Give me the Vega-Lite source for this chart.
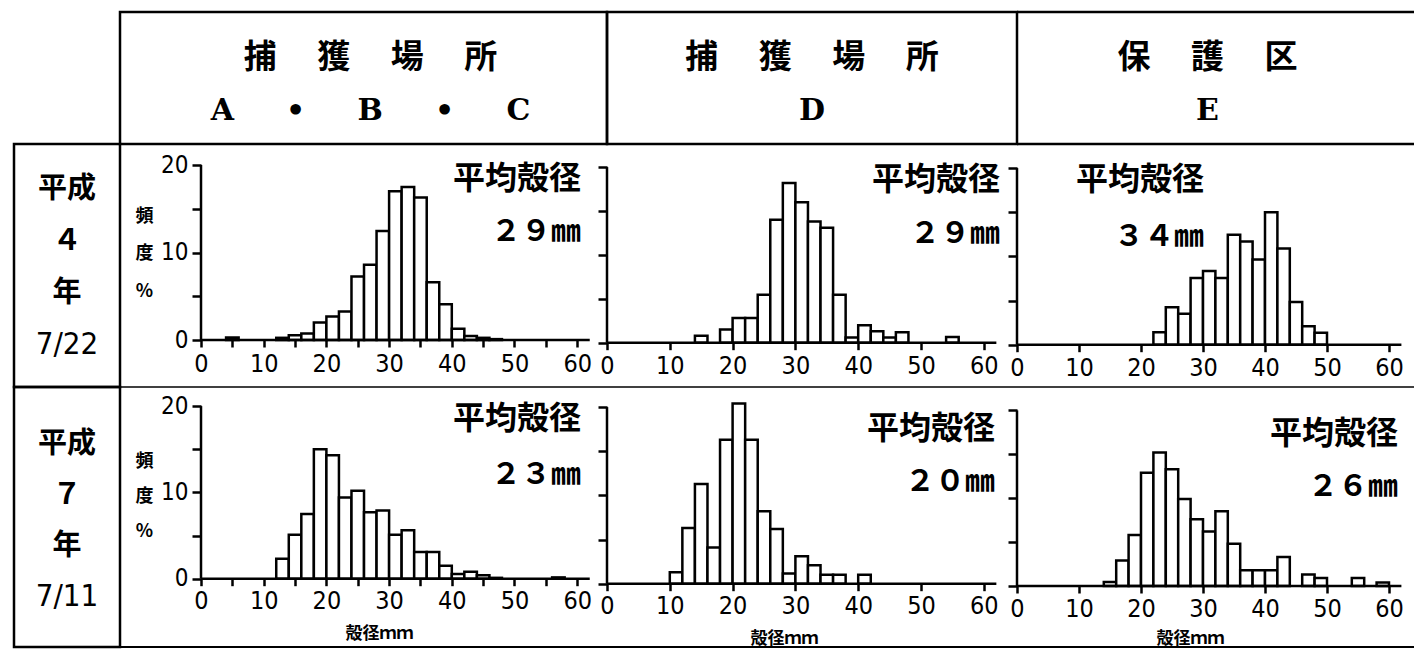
{
  "$schema": "https://vega.github.io/schema/vega-lite/v6.json",
  "background": "white",
  "padding": {"left": 12, "top": 10, "right": 0, "bottom": 0},
  "columns": 4,
  "spacing": 0,
  "bounds": "flush",
  "align": "each",
  "config": {
    "view": {"stroke": null},
    "axis": {"domainColor": "black", "tickColor": "black", "labelColor": "black", "titleColor": "black", "grid": false}
  },
  "datasets": {
    "p1": [
      {"lo": 4, "hi": 6, "pct": 0.3}, {"lo": 12, "hi": 14, "pct": 0.25}, {"lo": 14, "hi": 16, "pct": 0.55},
      {"lo": 16, "hi": 18, "pct": 0.75}, {"lo": 18, "hi": 20, "pct": 2.0}, {"lo": 20, "hi": 22, "pct": 2.7},
      {"lo": 22, "hi": 24, "pct": 3.25}, {"lo": 24, "hi": 26, "pct": 7.25}, {"lo": 26, "hi": 28, "pct": 8.6},
      {"lo": 28, "hi": 30, "pct": 12.45}, {"lo": 30, "hi": 32, "pct": 17.0}, {"lo": 32, "hi": 34, "pct": 17.5},
      {"lo": 34, "hi": 36, "pct": 16.3}, {"lo": 36, "hi": 38, "pct": 6.6}, {"lo": 38, "hi": 40, "pct": 4.1},
      {"lo": 40, "hi": 42, "pct": 1.3}, {"lo": 42, "hi": 44, "pct": 0.45}, {"lo": 44, "hi": 46, "pct": 0.25},
      {"lo": 46, "hi": 48, "pct": 0.1}
    ],
    "p2": [
      {"lo": 14, "hi": 16, "pct": 0.8}, {"lo": 18, "hi": 20, "pct": 1.5}, {"lo": 20, "hi": 22, "pct": 2.8},
      {"lo": 22, "hi": 24, "pct": 2.8}, {"lo": 24, "hi": 26, "pct": 5.45}, {"lo": 26, "hi": 28, "pct": 14.0},
      {"lo": 28, "hi": 30, "pct": 18.2}, {"lo": 30, "hi": 32, "pct": 16.0}, {"lo": 32, "hi": 34, "pct": 13.8},
      {"lo": 34, "hi": 36, "pct": 13.1}, {"lo": 36, "hi": 38, "pct": 5.45}, {"lo": 38, "hi": 40, "pct": 0.6},
      {"lo": 40, "hi": 42, "pct": 2.0}, {"lo": 42, "hi": 44, "pct": 1.3}, {"lo": 44, "hi": 46, "pct": 0.6},
      {"lo": 46, "hi": 48, "pct": 1.2}, {"lo": 54, "hi": 56, "pct": 0.65}
    ],
    "p3": [
      {"lo": 22, "hi": 24, "pct": 1.4}, {"lo": 24, "hi": 26, "pct": 4.25}, {"lo": 26, "hi": 28, "pct": 3.5},
      {"lo": 28, "hi": 30, "pct": 7.55}, {"lo": 30, "hi": 32, "pct": 8.35}, {"lo": 32, "hi": 34, "pct": 7.55},
      {"lo": 34, "hi": 36, "pct": 12.45}, {"lo": 36, "hi": 38, "pct": 11.7}, {"lo": 38, "hi": 40, "pct": 9.65},
      {"lo": 40, "hi": 42, "pct": 15.0}, {"lo": 42, "hi": 44, "pct": 10.9}, {"lo": 44, "hi": 46, "pct": 4.85},
      {"lo": 46, "hi": 48, "pct": 2.1}, {"lo": 48, "hi": 50, "pct": 1.35}
    ],
    "p4": [
      {"lo": 12, "hi": 14, "pct": 2.3}, {"lo": 14, "hi": 16, "pct": 5.1}, {"lo": 16, "hi": 18, "pct": 7.5},
      {"lo": 18, "hi": 20, "pct": 15.0}, {"lo": 20, "hi": 22, "pct": 14.3}, {"lo": 22, "hi": 24, "pct": 9.4},
      {"lo": 24, "hi": 26, "pct": 10.2}, {"lo": 26, "hi": 28, "pct": 7.7}, {"lo": 28, "hi": 30, "pct": 7.9},
      {"lo": 30, "hi": 32, "pct": 5.1}, {"lo": 32, "hi": 34, "pct": 5.6}, {"lo": 34, "hi": 36, "pct": 3.1},
      {"lo": 36, "hi": 38, "pct": 3.1}, {"lo": 38, "hi": 40, "pct": 1.5}, {"lo": 40, "hi": 42, "pct": 0.55},
      {"lo": 42, "hi": 44, "pct": 0.8}, {"lo": 44, "hi": 46, "pct": 0.4}, {"lo": 46, "hi": 48, "pct": 0.1},
      {"lo": 56, "hi": 58, "pct": 0.15}
    ],
    "p5": [
      {"lo": 10, "hi": 12, "pct": 1.3}, {"lo": 12, "hi": 14, "pct": 6.3}, {"lo": 14, "hi": 16, "pct": 11.3},
      {"lo": 16, "hi": 18, "pct": 4.1}, {"lo": 18, "hi": 20, "pct": 16.3}, {"lo": 20, "hi": 22, "pct": 20.4},
      {"lo": 22, "hi": 24, "pct": 16.3}, {"lo": 24, "hi": 26, "pct": 8.2}, {"lo": 26, "hi": 28, "pct": 6.2},
      {"lo": 28, "hi": 30, "pct": 1.15}, {"lo": 30, "hi": 32, "pct": 3.1}, {"lo": 32, "hi": 34, "pct": 2.1},
      {"lo": 34, "hi": 36, "pct": 1.0}, {"lo": 36, "hi": 38, "pct": 1.0}, {"lo": 40, "hi": 42, "pct": 1.0}
    ],
    "p6": [
      {"lo": 14, "hi": 16, "pct": 0.45}, {"lo": 16, "hi": 18, "pct": 2.9}, {"lo": 18, "hi": 20, "pct": 5.8},
      {"lo": 20, "hi": 22, "pct": 12.9}, {"lo": 22, "hi": 24, "pct": 15.2}, {"lo": 24, "hi": 26, "pct": 13.3},
      {"lo": 26, "hi": 28, "pct": 9.9}, {"lo": 28, "hi": 30, "pct": 7.6}, {"lo": 30, "hi": 32, "pct": 6.2},
      {"lo": 32, "hi": 34, "pct": 8.5}, {"lo": 34, "hi": 36, "pct": 4.8}, {"lo": 36, "hi": 38, "pct": 1.8},
      {"lo": 38, "hi": 40, "pct": 1.8}, {"lo": 40, "hi": 42, "pct": 1.8}, {"lo": 42, "hi": 44, "pct": 3.3},
      {"lo": 46, "hi": 48, "pct": 1.3}, {"lo": 48, "hi": 50, "pct": 0.9}, {"lo": 54, "hi": 56, "pct": 0.9},
      {"lo": 58, "hi": 60, "pct": 0.4}
    ]
  },
  "concat": [
    {
      "width": 106, "height": 132,
      "data": {"values": [{}]},
      "mark": "text",
      "encoding": {"text": {"value": ""}}
    },
    {
      "width": 487, "height": 132,
      "view": {"stroke": "black", "strokeWidth": 2.5},
      "data": {"values": [{"c": "h", "line": 1, "label": "捕　\u00a0獲　\u00a0場　\u00a0所"}, {"c": "h", "line": 2, "label": "A\u00a0\u00a0\u00a0\u00a0\u00a0•\u00a0\u00a0\u00a0\u00a0\u00a0B\u00a0\u00a0\u00a0\u00a0\u00a0•\u00a0\u00a0\u00a0\u00a0\u00a0C"}]},
      "encoding": {
        "x": {"field": "c", "type": "nominal", "axis": null},
        "y": {"field": "line", "type": "quantitative", "axis": null, "scale": {"domain": [0.132, 2.623], "reverse": true, "nice": false, "zero": false}},
        "text": {"field": "label"}
      },
      "layer": [
        {"transform": [{"filter": "datum.line == 1"}], "mark": {"type": "text", "font": "Noto Sans CJK JP", "fontSize": 33, "fontWeight": "bold", "baseline": "middle", "dx": 7, "color": "black"}},
        {"transform": [{"filter": "datum.line == 2"}], "mark": {"type": "text", "font": "DejaVu Serif", "fontSize": 30, "fontWeight": "bold", "baseline": "middle", "dx": 7, "color": "black"}}
      ]
    },
    {
      "width": 410, "height": 132,
      "view": {"stroke": "black", "strokeWidth": 2.5},
      "data": {"values": [{"c": "h", "line": 1, "label": "捕　\u00a0獲　\u00a0場　\u00a0所"}, {"c": "h", "line": 2, "label": "D"}]},
      "encoding": {
        "x": {"field": "c", "type": "nominal", "axis": null},
        "y": {"field": "line", "type": "quantitative", "axis": null, "scale": {"domain": [0.132, 2.623], "reverse": true, "nice": false, "zero": false}},
        "text": {"field": "label"}
      },
      "layer": [
        {"transform": [{"filter": "datum.line == 1"}], "mark": {"type": "text", "font": "Noto Sans CJK JP", "fontSize": 33, "fontWeight": "bold", "baseline": "middle", "color": "black"}},
        {"transform": [{"filter": "datum.line == 2"}], "mark": {"type": "text", "font": "DejaVu Serif", "fontSize": 30, "fontWeight": "bold", "baseline": "middle", "color": "black"}}
      ]
    },
    {
      "width": 397, "height": 132,
      "layer": [
        {
          "data": {"values": [{"c": "h", "line": 1, "label": "保　\u00a0護　\u00a0区"}, {"c": "h", "line": 2, "label": "E"}]},
          "transform": [{"filter": "datum.line == 1"}],
          "mark": {"type": "text", "font": "Noto Sans CJK JP", "fontSize": 33, "fontWeight": "bold", "baseline": "middle", "dx": -8, "color": "black"},
          "encoding": {
            "x": {"field": "c", "type": "nominal", "axis": null},
            "y": {"field": "line", "type": "quantitative", "axis": null, "scale": {"domain": [0.132, 2.623], "reverse": true, "nice": false, "zero": false}},
            "text": {"field": "label"}
          }
        },
        {
          "data": {"values": [{"c": "h", "line": 1, "label": "保　\u00a0護　\u00a0区"}, {"c": "h", "line": 2, "label": "E"}]},
          "transform": [{"filter": "datum.line == 2"}],
          "mark": {"type": "text", "font": "DejaVu Serif", "fontSize": 30, "fontWeight": "bold", "baseline": "middle", "dx": -8, "color": "black"},
          "encoding": {
            "x": {"field": "c", "type": "nominal", "axis": null},
            "y": {"field": "line", "type": "quantitative", "axis": null},
            "text": {"field": "label"}
          }
        },
        {"data": {"values": [{}]}, "mark": {"type": "rule", "stroke": "black", "strokeWidth": 2.5}, "encoding": {"y": {"datum": 0.132}}},
        {"data": {"values": [{}]}, "mark": {"type": "rule", "stroke": "black", "strokeWidth": 2.5}, "encoding": {"y": {"datum": 2.623}}}
      ]
    },
    {
      "width": 106, "height": 243,
      "view": {"stroke": "black", "strokeWidth": 2.5},
      "data": {"values": [{"c": "r", "line": 1, "label": "平成"}, {"c": "r", "line": 2, "label": "４"}, {"c": "r", "line": 3, "label": "年"}, {"c": "r", "line": 4, "label": "7/22"}]},
      "encoding": {
        "x": {"field": "c", "type": "nominal", "axis": null},
        "y": {"field": "line", "type": "quantitative", "axis": null, "scale": {"domain": [0.142, 4.806], "reverse": true, "nice": false, "zero": false}},
        "text": {"field": "label"}
      },
      "layer": [
        {"transform": [{"filter": "datum.line < 4"}], "mark": {"type": "text", "font": "Noto Sans CJK JP", "fontSize": 29, "fontWeight": "bold", "baseline": "middle", "color": "black"}},
        {"transform": [{"filter": "datum.line == 4"}], "mark": {"type": "text", "font": "DejaVu Sans Condensed, Liberation Sans Narrow, sans-serif", "fontSize": 31, "baseline": "middle", "color": "black"}}
      ]
    },
    {
      "width": 487, "height": 243,
      "layer": [
        {
          "data": {"name": "p1"},
          "mark": {"type": "bar", "fill": "white", "stroke": "black", "strokeWidth": 2.5},
          "encoding": {
            "x": {"field": "lo", "type": "quantitative", "scale": {"domain": [-12.919, 64.753], "nice": false, "zero": false},
                  "axis": {"values": [0, 5, 10, 15, 20, 25, 30, 35, 40, 45, 50, 55, 60], "labelExpr": "datum.value % 10 == 0 ? datum.label : ''", "domain": false, "tickSize": 7, "tickWidth": 2.5, "labelFont": "DejaVu Sans Condensed, Liberation Sans Narrow, sans-serif", "labelFontSize": 25, "labelPadding": 4, "labelFlush": false, "labelOverlap": false, "offset": -47, "title": null}},
            "x2": {"field": "hi"},
            "y": {"field": "pct", "type": "quantitative", "scale": {"domain": [-5.371, 22.4], "nice": false, "zero": false},
                  "axis": {"values": [0, 5, 10, 15, 20], "labelExpr": "datum.value % 10 == 0 ? datum.label : ''", "domain": false, "tickSize": 9, "tickWidth": 2.5, "labelFont": "DejaVu Sans Condensed, Liberation Sans Narrow, sans-serif", "labelFontSize": 24, "labelPadding": 4, "labelFlush": false, "labelOverlap": false, "offset": -81,
                           "title": ["頻", "度", "%"], "titleAngle": 0, "titleX": -57, "titleY": 63, "titleBaseline": "top", "titleAlign": "center", "titleFont": "Noto Sans CJK JP", "titleFontSize": 18, "titleFontWeight": "bold", "titleLineHeight": 37.5}},
            "y2": {"datum": 0}
          }
        },
        {"data": {"values": [{}]}, "mark": {"type": "rule", "stroke": "black", "strokeWidth": 2.5}, "encoding": {"x": {"datum": 0}, "x2": {"datum": 62}, "y": {"datum": 0}}},
        {"data": {"values": [{}]}, "mark": {"type": "rule", "stroke": "black", "strokeWidth": 2.5}, "encoding": {"x": {"datum": 0}, "y": {"datum": 0}, "y2": {"datum": 20}}},
        {"data": {"values": [{}]}, "mark": {"type": "rule", "stroke": "black", "strokeWidth": 1.5}, "encoding": {"y": {"datum": -5.371}}},
        {"data": {"values": [{}]}, "mark": {"type": "text", "align": "right", "baseline": "middle", "font": "Noto Sans CJK JP", "fontSize": 32, "fontWeight": "bold", "color": "black"}, "encoding": {"x": {"datum": 60.6}, "y": {"datum": 18.43}, "text": {"value": "平均殻径"}}},
        {"data": {"values": [{}]}, "mark": {"type": "text", "align": "right", "baseline": "middle", "font": "Noto Sans CJK JP", "fontSize": 30, "fontWeight": "bold", "color": "black"}, "encoding": {"x": {"datum": 60.6}, "y": {"datum": 12.34}, "text": {"value": "２９㎜"}}}
      ]
    },
    {
      "width": 410, "height": 243,
      "layer": [
        {
          "data": {"name": "p2"},
          "mark": {"type": "bar", "fill": "white", "stroke": "black", "strokeWidth": 2.5},
          "encoding": {
            "x": {"field": "lo", "type": "quantitative", "scale": {"domain": [0, 65.287], "nice": false, "zero": false},
                  "axis": {"values": [0, 5, 10, 15, 20, 25, 30, 35, 40, 45, 50, 55, 60], "labelExpr": "datum.value % 10 == 0 ? datum.label : ''", "domain": false, "tickSize": 7, "tickWidth": 2.5, "labelFont": "DejaVu Sans Condensed, Liberation Sans Narrow, sans-serif", "labelFontSize": 25, "labelPadding": 4, "labelFlush": false, "labelOverlap": false, "offset": -44.3, "title": null}},
            "x2": {"field": "hi"},
            "y": {"field": "pct", "type": "quantitative", "scale": {"domain": [-5.046, 22.631], "nice": false, "zero": false},
                  "axis": {"values": [0, 5, 10, 15, 20], "labels": false, "domain": false, "tickSize": 9, "tickWidth": 2.5, "offset": 0, "title": null}},
            "y2": {"datum": 0}
          }
        },
        {"data": {"values": [{}]}, "mark": {"type": "rule", "stroke": "black", "strokeWidth": 2.5}, "encoding": {"x": {"datum": 0}, "x2": {"datum": 62}, "y": {"datum": 0}}},
        {"data": {"values": [{}]}, "mark": {"type": "rule", "stroke": "black", "strokeWidth": 2.5}, "encoding": {"x": {"datum": 0}, "y": {"datum": 0}, "y2": {"datum": 20}}},
        {"data": {"values": [{}]}, "mark": {"type": "rule", "stroke": "black", "strokeWidth": 1.5}, "encoding": {"y": {"datum": -5.046}}},
        {"data": {"values": [{}]}, "mark": {"type": "text", "align": "right", "baseline": "middle", "font": "Noto Sans CJK JP", "fontSize": 32, "fontWeight": "bold", "color": "black"}, "encoding": {"x": {"datum": 62.58}, "y": {"datum": 18.5}, "text": {"value": "平均殻径"}}},
        {"data": {"values": [{}]}, "mark": {"type": "text", "align": "right", "baseline": "middle", "font": "Noto Sans CJK JP", "fontSize": 30, "fontWeight": "bold", "color": "black"}, "encoding": {"x": {"datum": 62.58}, "y": {"datum": 12.41}, "text": {"value": "２９㎜"}}}
      ]
    },
    {
      "width": 397, "height": 243,
      "layer": [
        {
          "data": {"name": "p3"},
          "mark": {"type": "bar", "fill": "white", "stroke": "black", "strokeWidth": 2.5},
          "encoding": {
            "x": {"field": "lo", "type": "quantitative", "scale": {"domain": [0, 64.032], "nice": false, "zero": false},
                  "axis": {"values": [0, 5, 10, 15, 20, 25, 30, 35, 40, 45, 50, 55, 60], "labelExpr": "datum.value % 10 == 0 ? datum.label : ''", "domain": false, "tickSize": 7, "tickWidth": 2.5, "labelFont": "DejaVu Sans Condensed, Liberation Sans Narrow, sans-serif", "labelFontSize": 25, "labelPadding": 4, "labelFlush": false, "labelOverlap": false, "offset": -42.3, "title": null}},
            "x2": {"field": "hi"},
            "y": {"field": "pct", "type": "quantitative", "scale": {"domain": [-4.79, 22.729], "nice": false, "zero": false},
                  "axis": {"values": [0, 5, 10, 15, 20], "labels": false, "domain": false, "tickSize": 9, "tickWidth": 2.5, "offset": 0, "title": null}},
            "y2": {"datum": 0}
          }
        },
        {"data": {"values": [{}]}, "mark": {"type": "rule", "stroke": "black", "strokeWidth": 2.5}, "encoding": {"x": {"datum": 0}, "x2": {"datum": 62}, "y": {"datum": 0}}},
        {"data": {"values": [{}]}, "mark": {"type": "rule", "stroke": "black", "strokeWidth": 2.5}, "encoding": {"x": {"datum": 0}, "y": {"datum": 0}, "y2": {"datum": 20}}},
        {"data": {"values": [{}]}, "mark": {"type": "rule", "stroke": "black", "strokeWidth": 1.5}, "encoding": {"y": {"datum": -4.79}}},
        {"data": {"values": [{}]}, "mark": {"type": "text", "align": "right", "baseline": "middle", "font": "Noto Sans CJK JP", "fontSize": 32, "fontWeight": "bold", "color": "black"}, "encoding": {"x": {"datum": 30.16}, "y": {"datum": 18.62}, "text": {"value": "平均殻径"}}},
        {"data": {"values": [{}]}, "mark": {"type": "text", "align": "right", "baseline": "middle", "font": "Noto Sans CJK JP", "fontSize": 30, "fontWeight": "bold", "color": "black"}, "encoding": {"x": {"datum": 30.16}, "y": {"datum": 12.2}, "text": {"value": "３４㎜"}}}
      ]
    },
    {
      "width": 106, "height": 260,
      "view": {"stroke": "black", "strokeWidth": 2.5},
      "data": {"values": [{"c": "r", "line": 1, "label": "平成"}, {"c": "r", "line": 2, "label": "７"}, {"c": "r", "line": 3, "label": "年"}, {"c": "r", "line": 4, "label": "7/11"}]},
      "encoding": {
        "x": {"field": "c", "type": "nominal", "axis": null},
        "y": {"field": "line", "type": "quantitative", "axis": null, "scale": {"domain": [-0.11, 4.978], "reverse": true, "nice": false, "zero": false}},
        "text": {"field": "label"}
      },
      "layer": [
        {"transform": [{"filter": "datum.line < 4"}], "mark": {"type": "text", "font": "Noto Sans CJK JP", "fontSize": 29, "fontWeight": "bold", "baseline": "middle", "color": "black"}},
        {"transform": [{"filter": "datum.line == 4"}], "mark": {"type": "text", "font": "DejaVu Sans Condensed, Liberation Sans Narrow, sans-serif", "fontSize": 31, "baseline": "middle", "color": "black"}}
      ]
    },
    {
      "width": 487, "height": 260,
      "layer": [
        {
          "data": {"name": "p4"},
          "mark": {"type": "bar", "fill": "white", "stroke": "black", "strokeWidth": 2.5},
          "encoding": {
            "x": {"field": "lo", "type": "quantitative", "scale": {"domain": [-12.919, 64.753], "nice": false, "zero": false},
                  "axis": {"values": [0, 5, 10, 15, 20, 25, 30, 35, 40, 45, 50, 55, 60], "labelExpr": "datum.value % 10 == 0 ? datum.label : ''", "domain": false, "tickSize": 7, "tickWidth": 2.5, "labelFont": "DejaVu Sans Condensed, Liberation Sans Narrow, sans-serif", "labelFontSize": 25, "labelPadding": 3, "labelFlush": false, "labelOverlap": false, "offset": -68.3,
                           "title": "殻径ｍｍ", "titleX": 259, "titleY": 55, "titleAnchor": null, "titleAlign": "center", "titleBaseline": "middle", "titleFont": "Noto Sans CJK JP", "titleFontSize": 17, "titleFontWeight": "bold"}},
            "x2": {"field": "hi"},
            "y": {"field": "pct", "type": "quantitative", "scale": {"domain": [-7.914, 22.213], "nice": false, "zero": false},
                  "axis": {"values": [0, 5, 10, 15, 20], "labelExpr": "datum.value % 10 == 0 ? datum.label : ''", "domain": false, "tickSize": 9, "tickWidth": 2.5, "labelFont": "DejaVu Sans Condensed, Liberation Sans Narrow, sans-serif", "labelFontSize": 24, "labelPadding": 4, "labelFlush": false, "labelOverlap": false, "offset": -81,
                           "title": ["頻", "度", "%"], "titleAngle": 0, "titleX": -57, "titleY": 65, "titleBaseline": "top", "titleAlign": "center", "titleFont": "Noto Sans CJK JP", "titleFontSize": 18, "titleFontWeight": "bold", "titleLineHeight": 35}},
            "y2": {"datum": 0}
          }
        },
        {"data": {"values": [{}]}, "mark": {"type": "rule", "stroke": "black", "strokeWidth": 2.5}, "encoding": {"x": {"datum": 0}, "x2": {"datum": 62}, "y": {"datum": 0}}},
        {"data": {"values": [{}]}, "mark": {"type": "rule", "stroke": "black", "strokeWidth": 2.5}, "encoding": {"x": {"datum": 0}, "y": {"datum": 0}, "y2": {"datum": 20}}},
        {"data": {"values": [{}]}, "mark": {"type": "rule", "stroke": "black", "strokeWidth": 2}, "encoding": {"y": {"datum": -7.914}}},
        {"data": {"values": [{}]}, "mark": {"type": "text", "align": "right", "baseline": "middle", "font": "Noto Sans CJK JP", "fontSize": 32, "fontWeight": "bold", "color": "black"}, "encoding": {"x": {"datum": 60.6}, "y": {"datum": 18.54}, "text": {"value": "平均殻径"}}},
        {"data": {"values": [{}]}, "mark": {"type": "text", "align": "right", "baseline": "middle", "font": "Noto Sans CJK JP", "fontSize": 30, "fontWeight": "bold", "color": "black"}, "encoding": {"x": {"datum": 60.6}, "y": {"datum": 11.98}, "text": {"value": "２３㎜"}}}
      ]
    },
    {
      "width": 410, "height": 260,
      "layer": [
        {
          "data": {"name": "p5"},
          "mark": {"type": "bar", "fill": "white", "stroke": "black", "strokeWidth": 2.5},
          "encoding": {
            "x": {"field": "lo", "type": "quantitative", "scale": {"domain": [0, 65.287], "nice": false, "zero": false},
                  "axis": {"values": [0, 5, 10, 15, 20, 25, 30, 35, 40, 45, 50, 55, 60], "labelExpr": "datum.value % 10 == 0 ? datum.label : ''", "domain": false, "tickSize": 7, "tickWidth": 2.5, "labelFont": "DejaVu Sans Condensed, Liberation Sans Narrow, sans-serif", "labelFontSize": 25, "labelPadding": 3, "labelFlush": false, "labelOverlap": false, "offset": -63.3,
                           "title": "殻径ｍｍ", "titleX": 177, "titleY": 55, "titleAnchor": null, "titleAlign": "center", "titleBaseline": "middle", "titleFont": "Noto Sans CJK JP", "titleFontSize": 17, "titleFontWeight": "bold"}},
            "x2": {"field": "hi"},
            "y": {"field": "pct", "type": "quantitative", "scale": {"domain": [-7.169, 22.276], "nice": false, "zero": false},
                  "axis": {"values": [0, 5, 10, 15, 20], "labels": false, "domain": false, "tickSize": 9, "tickWidth": 2.5, "offset": 0, "title": null}},
            "y2": {"datum": 0}
          }
        },
        {"data": {"values": [{}]}, "mark": {"type": "rule", "stroke": "black", "strokeWidth": 2.5}, "encoding": {"x": {"datum": 0}, "x2": {"datum": 62}, "y": {"datum": 0}}},
        {"data": {"values": [{}]}, "mark": {"type": "rule", "stroke": "black", "strokeWidth": 2.5}, "encoding": {"x": {"datum": 0}, "y": {"datum": 0}, "y2": {"datum": 20}}},
        {"data": {"values": [{}]}, "mark": {"type": "rule", "stroke": "black", "strokeWidth": 2}, "encoding": {"y": {"datum": -7.169}}},
        {"data": {"values": [{}]}, "mark": {"type": "text", "align": "right", "baseline": "middle", "font": "Noto Sans CJK JP", "fontSize": 32, "fontWeight": "bold", "color": "black"}, "encoding": {"x": {"datum": 61.8}, "y": {"datum": 17.55}, "text": {"value": "平均殻径"}}},
        {"data": {"values": [{}]}, "mark": {"type": "text", "align": "right", "baseline": "middle", "font": "Noto Sans CJK JP", "fontSize": 30, "fontWeight": "bold", "color": "black"}, "encoding": {"x": {"datum": 61.8}, "y": {"datum": 11.52}, "text": {"value": "２０㎜"}}}
      ]
    },
    {
      "width": 397, "height": 260,
      "layer": [
        {
          "data": {"name": "p6"},
          "mark": {"type": "bar", "fill": "white", "stroke": "black", "strokeWidth": 2.5},
          "encoding": {
            "x": {"field": "lo", "type": "quantitative", "scale": {"domain": [0, 64.032], "nice": false, "zero": false},
                  "axis": {"values": [0, 5, 10, 15, 20, 25, 30, 35, 40, 45, 50, 55, 60], "labelExpr": "datum.value % 10 == 0 ? datum.label : ''", "domain": false, "tickSize": 7, "tickWidth": 2.5, "labelFont": "DejaVu Sans Condensed, Liberation Sans Narrow, sans-serif", "labelFontSize": 25, "labelPadding": 3, "labelFlush": false, "labelOverlap": false, "offset": -61,
                           "title": "殻径ｍｍ", "titleX": 173, "titleY": 52, "titleAnchor": null, "titleAlign": "center", "titleBaseline": "middle", "titleFont": "Noto Sans CJK JP", "titleFontSize": 17, "titleFontWeight": "bold"}},
            "x2": {"field": "hi"},
            "y": {"field": "pct", "type": "quantitative", "scale": {"domain": [-6.948, 22.665], "nice": false, "zero": false},
                  "axis": {"values": [0, 5, 10, 15, 20], "labels": false, "domain": false, "tickSize": 9, "tickWidth": 2.5, "offset": 0, "title": null}},
            "y2": {"datum": 0}
          }
        },
        {"data": {"values": [{}]}, "mark": {"type": "rule", "stroke": "black", "strokeWidth": 2.5}, "encoding": {"x": {"datum": 0}, "x2": {"datum": 62}, "y": {"datum": 0}}},
        {"data": {"values": [{}]}, "mark": {"type": "rule", "stroke": "black", "strokeWidth": 2.5}, "encoding": {"x": {"datum": 0}, "y": {"datum": 0}, "y2": {"datum": 20}}},
        {"data": {"values": [{}]}, "mark": {"type": "rule", "stroke": "black", "strokeWidth": 2}, "encoding": {"y": {"datum": -6.948}}},
        {"data": {"values": [{}]}, "mark": {"type": "text", "align": "right", "baseline": "middle", "font": "Noto Sans CJK JP", "fontSize": 32, "fontWeight": "bold", "color": "black"}, "encoding": {"x": {"datum": 61.45}, "y": {"datum": 17.35}, "text": {"value": "平均殻径"}}},
        {"data": {"values": [{}]}, "mark": {"type": "text", "align": "right", "baseline": "middle", "font": "Noto Sans CJK JP", "fontSize": 30, "fontWeight": "bold", "color": "black"}, "encoding": {"x": {"datum": 61.45}, "y": {"datum": 11.28}, "text": {"value": "２６㎜"}}}
      ]
    }
  ]
}
